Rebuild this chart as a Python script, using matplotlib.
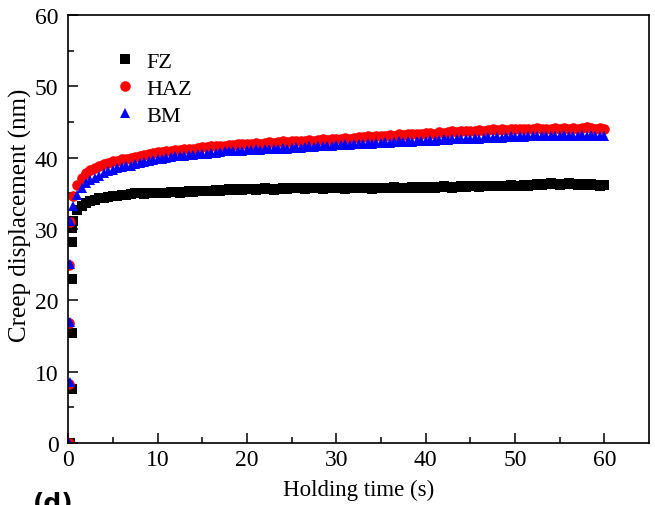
import numpy as np
import matplotlib
matplotlib.use("Agg")
from matplotlib import pyplot as plt

plt.rcParams['font.family'] = ['Liberation Serif', 'DejaVu Serif']

# loading points (very start of the test)
fz_load_t = [0.2, 0.4, 0.4, 0.4, 0.45, 0.45]
fz_load = [0.0, 7.6, 15.4, 23.0, 28.2, 30.1]
haz_load_t = [0.15, 0.15, 0.15, 0.15, 0.2]
haz_load = [0.0, 8.3, 16.8, 25.0, 31.0]
bm_load_t = [0.1, 0.2, 0.2, 0.2, 0.2]
bm_load = [0.0, 8.5, 17.0, 25.1, 31.1]

# holding segment, sampled every 0.5 s from 0.5 s to 60 s
hold_t = np.arange(1, 121) * 0.5

fz_hold = [
    31.2, 32.7, 33.3, 33.7, 34.0, 34.1, 34.3, 34.4, 34.5, 34.6,
    34.7, 34.8, 34.8, 34.9, 35.0, 35.0, 34.9, 35.0, 35.1, 35.1,
    35.0, 35.1, 35.2, 35.2, 35.1, 35.2, 35.3, 35.2, 35.3, 35.4,
    35.3, 35.4, 35.5, 35.4, 35.5, 35.6, 35.5, 35.6, 35.5, 35.6,
    35.6, 35.5, 35.6, 35.7, 35.6, 35.5, 35.6, 35.7, 35.6, 35.7,
    35.8, 35.7, 35.6, 35.7, 35.8, 35.7, 35.6, 35.7, 35.8, 35.7,
    35.7, 35.6, 35.7, 35.8, 35.7, 35.8, 35.7, 35.6, 35.7, 35.8,
    35.7, 35.8, 35.9, 35.8, 35.7, 35.8, 35.9, 35.8, 35.9, 35.8,
    35.9, 35.8, 35.9, 36.0, 35.9, 35.8, 35.9, 36.0, 35.9, 36.0,
    36.0, 35.9, 36.0, 36.1, 36.0, 36.1, 36.0, 36.1, 36.2, 36.1,
    36.1, 36.2, 36.1, 36.2, 36.3, 36.2, 36.3, 36.4, 36.3, 36.2,
    36.3, 36.4, 36.3, 36.2, 36.3, 36.2, 36.3, 36.2, 36.1, 36.2,
]

haz_hold = [
    34.6, 36.2, 37.1, 37.8, 38.3, 38.6, 38.9, 39.1, 39.3, 39.5,
    39.6, 39.8, 39.9, 40.0, 40.1, 40.3, 40.4, 40.5, 40.7, 40.8,
    40.8, 40.9, 41.0, 41.1, 41.1, 41.2, 41.2, 41.3, 41.4, 41.5,
    41.5, 41.6, 41.6, 41.7, 41.7, 41.8, 41.8, 41.9, 41.9, 42.0,
    42.0, 42.1, 42.0, 42.1, 42.2, 42.1, 42.2, 42.3, 42.2, 42.3,
    42.4, 42.3, 42.4, 42.5, 42.4, 42.5, 42.6, 42.5, 42.6, 42.7,
    42.7, 42.8, 42.7, 42.8, 42.9, 42.9, 43.0, 42.9, 43.0, 43.1,
    43.1, 43.2, 43.1, 43.3, 43.2, 43.3, 43.4, 43.3, 43.4, 43.5,
    43.5, 43.4, 43.6, 43.5, 43.6, 43.7, 43.6, 43.7, 43.8, 43.7,
    43.8, 43.9, 43.8, 43.9, 44.0, 43.9, 44.0, 43.9, 44.0, 44.1,
    44.0, 44.1, 44.0, 44.1, 44.2, 44.1, 44.0, 44.1, 44.2, 44.1,
    44.2, 44.1, 44.2, 44.1, 44.2, 44.3, 44.2, 44.1, 44.2, 44.0,
]

bm_hold = [
    33.2, 34.8, 35.7, 36.4, 36.9, 37.2, 37.5, 37.8, 38.1, 38.3,
    38.5, 38.7, 38.8, 38.9, 39.1, 39.3, 39.4, 39.5, 39.7, 39.8,
    39.9, 40.0, 40.1, 40.2, 40.2, 40.3, 40.4, 40.4, 40.5, 40.6,
    40.6, 40.7, 40.7, 40.8, 40.9, 40.9, 41.0, 40.9, 41.0, 41.1,
    41.1, 41.2, 41.1, 41.2, 41.3, 41.2, 41.3, 41.4, 41.3, 41.4,
    41.5, 41.4, 41.5, 41.6, 41.5, 41.6, 41.7, 41.6, 41.7, 41.8,
    41.8, 41.9, 41.8, 41.9, 42.0, 41.9, 42.1, 42.0, 42.1, 42.1,
    42.2, 42.1, 42.2, 42.3, 42.2, 42.3, 42.2, 42.3, 42.4, 42.4,
    42.5, 42.4, 42.5, 42.6, 42.5, 42.6, 42.7, 42.6, 42.7, 42.7,
    42.8, 42.7, 42.8, 42.9, 42.8, 42.9, 42.8, 42.9, 43.0, 42.9,
    43.0, 42.9, 43.0, 43.1, 43.0, 43.1, 43.0, 43.1, 43.0, 43.1,
    43.2, 43.1, 43.0, 43.1, 43.2, 43.1, 43.2, 43.1, 43.0, 43.1,
]

fig = plt.figure(figsize=(6.55, 5.06), dpi=100)
ax = fig.add_axes([0.104, 0.1225, 0.887, 0.8455])

ms = 7.6
ax.plot(fz_load_t + list(hold_t), fz_load + fz_hold, 's', color='black',
        ms=ms, mew=0, label='FZ')
ax.plot(haz_load_t + list(hold_t), haz_load + haz_hold, 'o', color='#ff0000',
        ms=ms, mew=0, label='HAZ')
ax.plot(bm_load_t + list(hold_t), bm_load + bm_hold, '^', color='#0000ff',
        ms=ms, mew=0, label='BM')

ax.set_xlim(0, 65)
ax.set_ylim(0, 60)
ax.set_xticks([0, 10, 20, 30, 40, 50, 60])
ax.set_xticks([5, 15, 25, 35, 45, 55], minor=True)
ax.set_yticks([0, 10, 20, 30, 40, 50, 60])
ax.set_yticks([5, 15, 25, 35, 45, 55], minor=True)
ax.tick_params(which='both', direction='in', labelsize=17, width=1.1)
ax.tick_params(which='major', length=7)
ax.tick_params(which='minor', length=4)
ax.tick_params(axis='y', pad=7)
ax.tick_params(axis='x', pad=4)
for s in ax.spines.values():
    s.set_linewidth(1.2)

ax.set_xlabel('Holding time (s)', fontsize=16.5, labelpad=7)
ax.set_ylabel('Creep displacement (nm)', fontsize=18)
ax.yaxis.set_label_coords(-0.062, 0.535)

ax.legend(loc='upper left', bbox_to_anchor=(0.045, 0.962), frameon=False,
          fontsize=16, handletextpad=0.45, labelspacing=0.28, markerscale=1.0,
          handlelength=1.0)

fig.text(0.05, 0.028, '(d)', fontsize=18, fontweight='bold',
         family='DejaVu Sans', va='top', ha='left')

fig.savefig('out.png', dpi=100)
